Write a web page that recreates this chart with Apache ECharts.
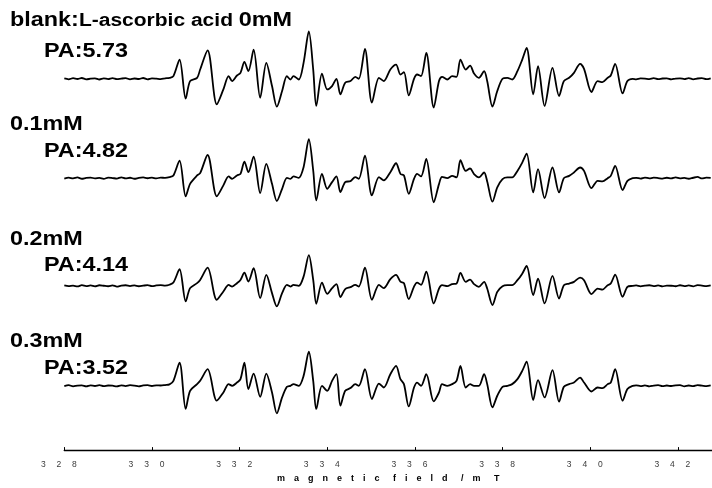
<!DOCTYPE html>
<html><head><meta charset="utf-8">
<script src="https://cdn.jsdelivr.net/npm/echarts@6/dist/echarts.min.js"></script>
<style>html,body{margin:0;padding:0;background:#fff}#c{width:712px;height:488px}</style>
</head><body><div id="c"></div><script>
// ---- data ----
const concLabels = ['blank:L-ascorbic acid 0mM', '0.1mM', '0.2mM', '0.3mM'];
const paValues = ['5.73', '4.82', '4.14', '3.52'];
const xTicks = [328, 330, 332, 334, 336, 338, 340, 342];
const axisTitle = ['magnetic', 'field', '/m', 'T'];

// magnetic field (mT) of baseline points before / after the signal
const fieldHead = [328.0,328.1,328.2,328.3,328.4,328.5,328.6,328.7,328.8,328.9,329.0,329.1,329.2,329.3,329.4,329.5,329.6,329.7,329.8,329.9,330.0,330.1,330.2,330.3,330.4];
const fieldTail = [341.05,341.15,341.25,341.35,341.45,341.55,341.65,341.75,341.85,341.95,342.05,342.15,342.25,342.35,342.45,342.55,342.65,342.75];
// magnetic field (mT) of signal feature points
const fieldSignal = [
330.49,330.63,330.77,330.87,331.03,331.10,331.27,331.48,331.63,331.75,
331.83,331.94,332.02,332.11,332.20,332.32,332.47,332.61,332.74,332.85,
332.97,333.08,333.16,333.23,333.35,333.46,333.58,333.68,333.75,333.88,
334.00,334.11,334.21,334.30,334.41,334.53,334.64,334.72,334.86,335.02,
335.18,335.29,335.44,335.57,335.67,335.75,335.86,335.98,336.05,336.14,
336.26,336.43,336.55,336.62,336.74,336.85,336.95,337.04,337.16,337.26,
337.35,337.46,337.58,337.65,337.77,337.88,338.00,338.11,338.22,338.34,
338.45,338.55,338.70,338.81,338.96,339.14,339.29,339.40,339.52,339.63,
339.77,339.86,340.03,340.17,340.28,340.40,340.47,340.57,340.74,340.85,340.97];

// ESR intensities (a.u.)
const sig0 = [2.7,19.3,-20,-2.3,1,9.3,28.7,-25.7,-10.7,2.7,
-2.3,3.3,6,17,7.7,29.3,-19,16,-7.3,-28,
-12.3,2.7,-0.7,2.7,-0.7,16,47.7,9.3,-27.3,5.3,
-10.7,-7.3,0,-15.7,-4,-2.3,2,0,30,-24,
1,-2.3,9.3,14.3,4.3,6.7,-16.7,0,4.3,2.7,
26,-29,-2.3,2,-0.7,2.7,2,19.3,9.3,13.3,
5.3,1,7.7,-2.3,-28,-12.3,0,1,-0.7,7.7,
19.3,31,-15.7,12.7,-27.3,11,-17.3,-2.3,1,6,
15,10,-13.3,-2.3,-3.3,1,3.3,15,-14.7,-2.3,0];
const sig01 = [2.7,17.7,-18.3,-5.7,2.7,5,23.3,-18.3,-7.3,1.7,
-0.7,2.7,4.3,16.7,6,21.7,-15,14.3,-5.7,-23,
-10.7,0.3,-0.7,1.7,0.3,11,39.3,7.7,-22.3,4.3,
-10.7,-4,1.7,-14,-4,-3,1,-0.7,22.7,-17.3,
1,-2.3,6,15,4.3,2.7,-15.7,-0.7,4.3,1.7,
19.3,-24.3,-6,1.3,0,2.3,0.7,18,7.3,9.7,
4,0.7,5.7,-3.3,-23.7,-9.3,-1,0.7,0.7,7.3,
15.7,24.7,-14.3,9,-20,10.7,-14.3,0,2.3,5.7,
10.7,7.3,-10,-2.7,-3.3,0,2.3,12.3,-12,-2.7,0];
const sig02 = [3.3,16.7,-15.7,-2.3,2.7,6,18.3,-14,-5.7,1,
-0.7,2.7,6,13.3,4.3,17.7,-12.3,11,-7.3,-20.7,
-7.3,1,-0.7,1,0,9.3,31,6,-18,3.3,
-8,-2.3,1.7,-11.3,-3.3,-1.3,1,-0.7,18.3,-14,
1,-2.3,6.7,11,4.3,2.7,-13.3,-0.7,3.3,1,
14.3,-17.7,-2.7,0.7,-0.3,1.7,2.3,13,4,6.3,
1.7,-1,4,-2.7,-19.3,-6,-0.3,0.7,0.7,5.7,
12.3,20,-9.3,7.3,-17.7,10,-12.7,0.7,2.3,4,
8.3,5.7,-8.3,-2.7,-3.7,0.7,2.3,11.3,-11,-1,0];
const sig03 = [5,23.3,-23.3,-5,1.7,5,16.7,-15,-6.7,1.7,
0,3.3,6.7,23.3,-3.3,12.3,-11,12.3,-6.7,-27.7,
-11.7,-1,0,1.7,0,10,34.3,5,-23.3,0,
-5,5,11.7,-20,-5,-2.3,1.7,0,16.7,-13.3,
2.3,-1.7,11.7,20,6.7,1.7,-20.7,-1.7,3.3,0,
11.7,-15.7,-6.7,1.7,0,1.7,5,20,-1.7,1.7,
0,0,11.7,1.7,-21.7,-10,-1,0,1.7,6.7,
15,24.3,-14.3,5.7,-11.7,15.7,-16,-1,1.7,3.3,
8.3,3.3,-5.7,-1.7,-2.3,1.7,3.3,16.7,-15,-3.3,0];

// baseline noise (a.u.)
const noiseHead0 = [0.3,-0.5,0.6,-0.2,0.8,-0.6,0.1,0.5,-0.7,0.4,-0.3,0.7,-0.4,0.2,0.6,-0.5,0.3,-0.2,0.8,-0.6,0.4,0.1,-0.3,0.5,0.9];
const noiseTail0 = [-0.5,0.4,0.2,-0.3,0.6,-0.4,0.3,0.5,-0.6,0.2,0.4,-0.3,0.7,-0.5,0.3,0.6,-0.4,0.5];
const noiseHead1 = [-0.4,0.5,-0.2,0.7,-0.6,0.3,0.6,-0.3,0.2,-0.7,0.5,0.1,-0.4,0.8,-0.2,0.4,-0.6,0.3,0.7,-0.1,0.5,-0.3,0.6,0.2,1.0];
const noiseTail1 = [0.3,-0.4,0.6,-0.2,0.5,0.1,-0.5,0.4,-0.3,0.7,-0.2,0.3,-0.6,0.4,1.2,-0.3,0.5,0.2];
const noiseHead2 = [0.5,-0.3,0.2,-0.6,0.7,-0.2,0.4,-0.5,0.6,0.1,-0.4,0.5,-0.7,0.3,0.6,-0.2,0.5,-0.4,0.2,0.7,-0.3,0.4,0.8,0.3,1.1];
const noiseTail2 = [0.4,-0.5,0.2,0.6,-0.3,0.5,-0.6,0.3,0.1,-0.4,0.6,-0.2,0.4,-0.5,0.7,0.2,-0.3,0.4];
const noiseHead3 = [-0.3,0.6,-0.5,0.2,0.4,-0.6,0.5,-0.2,0.7,-0.4,0.3,0.1,-0.6,0.5,-0.3,0.6,0.2,-0.5,0.4,0.7,-0.2,0.5,0.3,0.8,1.4];
const noiseTail3 = [0.5,-0.3,0.4,-0.6,0.2,0.6,-0.4,0.3,-0.2,0.5,0.7,-0.5,0.3,-0.4,0.6,0.2,-0.3,0.4];

// ---- layout ----
const signals = [sig0, sig01, sig02, sig03];
const noiseHeads = [noiseHead0, noiseHead1, noiseHead2, noiseHead3];
const noiseTails = [noiseTail0, noiseTail1, noiseTail2, noiseTail3];
const stackOffset = [373.7, 273.7, 165.3, 64.7];   // vertical stacking of spectra
const labelY = [20.5, 125, 240, 342];
const paY = [52, 152, 266, 368.5];
const FONT = '"Liberation Sans", Arial, Helvetica, sans-serif';

function buildSeries(i) {
  const pts = [];
  fieldHead.forEach((f, k) => pts.push([f, stackOffset[i] + noiseHeads[i][k]]));
  fieldSignal.forEach((f, k) => pts.push([f, stackOffset[i] + signals[i][k]]));
  fieldTail.forEach((f, k) => pts.push([f, stackOffset[i] + noiseTails[i][k]]));
  return {
    type: 'line', data: pts, showSymbol: false, symbol: 'none', smooth: 0.3,
    lineStyle: { color: '#000', width: 1.8 }, silent: true, animation: false
  };
}

const spaced = v => String(v).split('').map(d => d + '\u2003 ').join('');
const axisName = axisTitle.map(w => w.split('').join('\u2002\u2002')).join('\u2003\u2002');

const graphics = [];
concLabels.forEach((lab, i) => {
  let style;
  const m = lab.match(/^(.*:)(.* )(\S+)$/);
  if (m) {
    style = {
      text: '{a|' + m[1] + '}{b|' + m[2] + '}{a|' + m[3] + '}',
      rich: {
        a: { fontSize: 19.5, fontWeight: 'bold', fontFamily: FONT, fill: '#000', verticalAlign: 'bottom' },
        b: { fontSize: 17.5, fontWeight: 'bold', fontFamily: FONT, fill: '#000', verticalAlign: 'bottom' }
      },
      verticalAlign: 'middle'
    };
  } else {
    style = { text: lab, fontSize: 19.5, fontWeight: 'bold', fontFamily: FONT, fill: '#000', verticalAlign: 'middle' };
  }
  graphics.push({ type: 'text', x: 10, y: labelY[i], scaleX: 1.2, style: style, silent: true });
  graphics.push({ type: 'text', x: 44, y: paY[i], scaleX: 1.2, silent: true,
    style: { text: 'PA:' + paValues[i], fontSize: 19.5, fontWeight: 'bold', fontFamily: FONT, fill: '#000', verticalAlign: 'middle' } });
});

const chart = echarts.init(document.getElementById('c'), null, { renderer: 'canvas' });
chart.setOption({
  animation: false,
  backgroundColor: '#fff',
  grid: { left: 64.3, right: 0, top: 0, bottom: 35 },
  xAxis: {
    type: 'value', min: 328, max: 342.78, interval: 2,
    axisLine: { lineStyle: { color: '#000', width: 1.4 } },
    axisTick: { inside: true, length: 3, lineStyle: { color: '#000', width: 1 } },
    splitLine: { show: false },
    axisLabel: {
      color: '#3a3a3a', fontSize: 8.5, fontFamily: FONT, margin: 10, showMaxLabel: false,
      formatter: v => xTicks.includes(v) ? spaced(v) : ''
    },
    name: axisName, nameLocation: 'middle', nameGap: 20,
    nameTextStyle: { fontSize: 9, fontWeight: 'bold', color: '#000', fontFamily: FONT }
  },
  yAxis: { type: 'value', min: 0, max: 453, show: false },
  series: [0, 1, 2, 3].map(buildSeries),
  graphic: graphics
});
</script></body></html>
